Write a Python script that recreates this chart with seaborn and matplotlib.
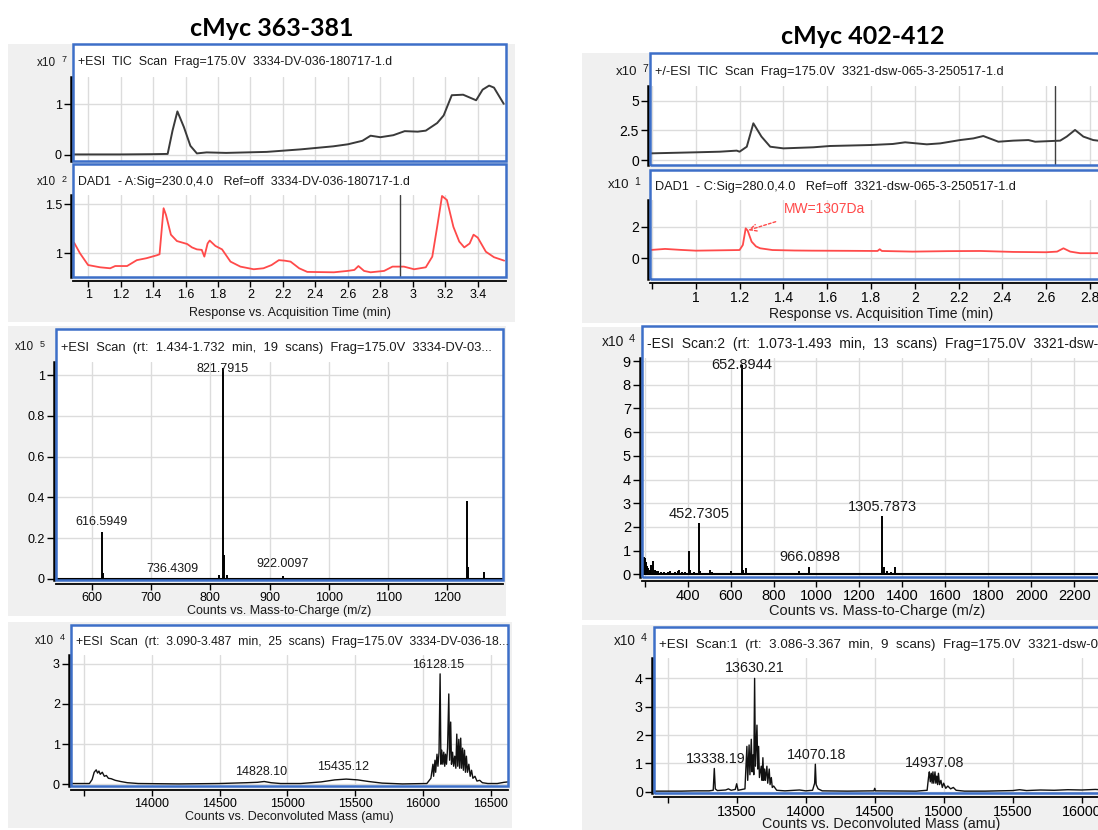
import matplotlib
matplotlib.use("Agg")
import matplotlib.pyplot as plt
from matplotlib.patches import Rectangle
import numpy as np
import seaborn as sns

sns.set_theme(style="ticks")
plt.rcParams["font.family"] = ["Liberation Sans", "DejaVu Sans"]

W, H = 1098, 830
BLUE = "#3d6fc8"
GRID = "#dcdcdc"
RED = "#ff4a4a"

# ---------------- cMyc 363-381 (left column) ----------------
tic_l_time = [0.907, 1.00, 1.20, 1.40, 1.49, 1.52, 1.55, 1.59, 1.63, 1.67, 1.73, 1.85, 2.10,
              2.31, 2.51, 2.60, 2.69, 2.74, 2.80, 2.88, 2.95, 3.03, 3.08, 3.15, 3.19, 3.24,
              3.31, 3.39, 3.43, 3.47, 3.50, 3.56]
tic_l_resp = [0.01, 0.01, 0.01, 0.015, 0.02, 0.48, 0.86, 0.55, 0.18, 0.03, 0.05, 0.04, 0.06,
              0.11, 0.17, 0.21, 0.28, 0.38, 0.35, 0.39, 0.47, 0.46, 0.48, 0.63, 0.78, 1.18,
              1.19, 1.08, 1.29, 1.37, 1.33, 1.01]

dad_l_time = [0.914, 0.95, 1.00, 1.074, 1.136, 1.167, 1.24, 1.30, 1.36, 1.424, 1.44, 1.465,
              1.48, 1.51, 1.547, 1.61, 1.64, 1.67, 1.70, 1.716, 1.736, 1.749, 1.784, 1.825,
              1.877, 1.938, 2.02, 2.08, 2.13, 2.175, 2.21, 2.247, 2.30, 2.35, 2.514, 2.597,
              2.64, 2.665, 2.70, 2.74, 2.823, 2.875, 2.945, 3.008, 3.08, 3.12, 3.15, 3.18,
              3.21, 3.25, 3.286, 3.317, 3.35, 3.374, 3.40, 3.45, 3.50, 3.563]
dad_l_resp = [1.108, 1.00, 0.88, 0.857, 0.847, 0.87, 0.87, 0.93, 0.95, 0.98, 0.99, 1.46,
              1.39, 1.19, 1.125, 1.095, 1.06, 1.04, 1.035, 0.966, 1.10, 1.13, 1.075, 1.04,
              0.915, 0.864, 0.837, 0.847, 0.88, 0.93, 0.925, 0.915, 0.847, 0.81, 0.806, 0.82,
              0.83, 0.87, 0.82, 0.806, 0.82, 0.864, 0.864, 0.837, 0.857, 0.966, 1.27, 1.585,
              1.544, 1.27, 1.12, 1.06, 1.10, 1.19, 1.16, 1.016, 0.96, 0.925]
dad_l_cursor = 2.92

ms_l_mz = [616.59, 618.6, 736.43, 815.0, 821.79, 823.8, 828.3, 922.01, 964.5, 1232.4, 1234.4, 1262.0]
ms_l_int = [0.232, 0.03, 0.004, 0.02, 1.034, 0.12, 0.02, 0.015, 0.006, 0.382, 0.06, 0.036]
ms_l_labels = ["616.5949", "821.7915", "736.4309", "922.0097"]
ms_l_label_x = [616.6, 820.9, 736.6, 922.1]
ms_l_label_y = [0.278, 1.03, 0.049, 0.072]

dec_l_mass = [13404, 13540, 13560, 13575, 13590, 13600, 13610, 13620, 13635, 13650, 13665, 13680,
              13700, 13730, 13770, 13820, 13900, 14200, 14500, 14700, 14780, 14830, 14880, 14950,
              15100, 15250, 15350, 15435, 15520, 15600, 15700, 15850, 16030, 16060, 16075, 16080,
              16090, 16095, 16105, 16112, 16120, 16128, 16134, 16140, 16148, 16155, 16162, 16168,
              16175, 16183, 16192, 16198, 16206, 16212, 16220, 16228, 16236, 16244, 16251, 16258,
              16266, 16272, 16280, 16286, 16294, 16300, 16308, 16315, 16322, 16330, 16340, 16350,
              16360, 16370, 16385, 16400, 16420, 16440, 16480, 16550, 16600, 16629]
dec_l_int = [0.02, 0.02, 0.12, 0.30, 0.36, 0.28, 0.33, 0.25, 0.30, 0.20, 0.22, 0.15,
             0.14, 0.10, 0.07, 0.04, 0.02, 0.01, 0.02, 0.04, 0.05, 0.07, 0.04, 0.02,
             0.02, 0.06, 0.11, 0.13, 0.11, 0.07, 0.03, 0.01, 0.02, 0.15, 0.50, 0.20,
             0.60, 0.30, 0.75, 0.45, 0.80, 2.75, 0.50, 0.85, 0.50, 0.80, 0.45, 0.75,
             0.50, 0.90, 2.25, 0.60, 1.55, 0.50, 0.80, 0.45, 0.70, 0.40, 1.25, 0.45,
             1.12, 0.40, 1.15, 0.40, 0.90, 0.35, 0.85, 0.30, 0.70, 0.30, 0.50, 0.20,
             0.35, 0.15, 0.20, 0.08, 0.10, 0.04, 0.02, 0.02, 0.05, 0.06]
dec_l_labels = ["16128.15", "14828.10", "15435.12"]
dec_l_label_x = [16110, 14810, 15411]
dec_l_label_y = [2.97, 0.31, 0.42]

# ---------------- cMyc 402-412 (right column) ----------------
tic_r_time = [0.795, 1.005, 1.11, 1.187, 1.20, 1.233, 1.263, 1.30, 1.34, 1.40, 1.537, 1.613,
              1.796, 1.90, 1.956, 2.055, 2.116, 2.207, 2.268, 2.313, 2.382, 2.45, 2.519, 2.55,
              2.664, 2.694, 2.732, 2.77, 2.815, 2.85]
tic_r_resp = [0.56, 0.65, 0.70, 0.79, 0.70, 1.12, 3.09, 1.97, 1.12, 0.98, 1.07, 1.18,
              1.26, 1.35, 1.49, 1.32, 1.40, 1.68, 1.82, 2.02, 1.54, 1.63, 1.68, 1.54,
              1.63, 1.97, 2.53, 1.97, 1.68, 1.60]
tic_r_cursor = 2.64

dad_r_time = [0.79, 0.86, 0.93, 1.00, 1.10, 1.20, 1.215, 1.228, 1.237, 1.255, 1.275, 1.294,
              1.35, 1.45, 1.53, 1.70, 1.83, 1.84, 1.85, 1.99, 2.15, 2.30, 2.45, 2.60, 2.65,
              2.679, 2.71, 2.755, 2.85]
dad_r_resp = [0.52, 0.59, 0.53, 0.48, 0.50, 0.52, 0.84, 1.89, 1.75, 1.05, 0.75, 0.63,
              0.52, 0.49, 0.48, 0.47, 0.46, 0.57, 0.46, 0.42, 0.45, 0.46, 0.40, 0.38, 0.42,
              0.63, 0.42, 0.32, 0.32]
mw_text = "MW=1307Da"
mw_text_pos = (1.403, 3.1)
mw_arrow_from = (1.377, 2.36)
mw_arrow_to = (1.228, 1.72)

ms_r_mz = [195, 200, 206, 212, 218, 225, 232, 240, 248, 255, 262, 275, 290, 310, 320, 340, 355,
           362, 372, 390, 405, 412, 430, 452.73, 460, 480, 505, 512, 540, 560, 600, 620, 652.89,
           660, 672, 690, 720, 750, 790, 800, 850, 920, 940, 966.09, 1000, 1050, 1100, 1305.79,
           1312, 1330, 1345, 1366, 1400, 1500, 1800, 1960, 2000]
ms_r_int = [0.75, 0.70, 0.50, 0.35, 0.25, 0.20, 0.40, 0.55, 0.20, 0.15, 0.12, 0.10, 0.08, 0.10,
            0.12, 0.08, 0.15, 0.20, 0.10, 0.08, 1.00, 0.20, 0.08, 2.15, 0.15, 0.06, 0.20, 0.10,
            0.05, 0.06, 0.12, 0.05, 8.85, 0.20, 0.25, 0.06, 0.06, 0.05, 0.05, 0.06, 0.04, 0.13,
            0.04, 0.30, 0.03, 0.03, 0.02, 2.47, 0.30, 0.12, 0.08, 0.30, 0.04, 0.02, 0.02, 0.03,
            0.02]
ms_r_labels = ["652.8944", "452.7305", "1305.7873", "966.0898"]
ms_r_label_x = [653, 454, 1307, 967]
ms_r_label_y = [8.83, 2.53, 2.85, 0.72]

dec_r_mass = [12901, 13100, 13200, 13300, 13330, 13338, 13345, 13360, 13420, 13440, 13460, 13490,
              13500, 13510, 13560, 13574, 13580, 13590, 13596, 13606, 13612, 13618, 13624, 13630,
              13636, 13647, 13653, 13659, 13665, 13678, 13684, 13690, 13696, 13702, 13708, 13719,
              13725, 13736, 13742, 13751, 13758, 13768, 13790, 13850, 13955, 14000, 14050, 14065,
              14070, 14076, 14090, 14120, 14300, 14495, 14500, 14505, 14800, 14880, 14890, 14896,
              14903, 14910, 14916, 14922, 14928, 14937, 14943, 14950, 14956, 14962, 14970, 14980,
              14990, 15000, 15015, 15030, 15050, 15070, 15090, 15150, 15300, 15500, 15550, 15600,
              15700, 15800, 15900, 16000, 16100, 16200]
dec_r_int = [0.02, 0.02, 0.03, 0.03, 0.05, 0.82, 0.10, 0.04, 0.06, 0.10, 0.05, 0.08,
             0.28, 0.05, 0.10, 1.60, 0.40, 1.65, 0.60, 1.85, 0.70, 1.30, 0.60, 4.00,
             0.90, 2.35, 0.80, 1.60, 0.50, 0.90, 0.40, 1.20, 0.40, 0.80, 0.40, 0.90,
             0.30, 0.80, 0.25, 0.50, 0.15, 0.20, 0.05, 0.03, 0.06, 0.03, 0.05, 0.30,
             0.97, 0.25, 0.10, 0.03, 0.02, 0.03, 0.12, 0.03, 0.02, 0.05, 0.50, 0.70,
             0.35, 0.65, 0.30, 0.70, 0.30, 0.70, 0.30, 0.55, 0.25, 0.65, 0.25, 0.40,
             0.15, 0.30, 0.12, 0.20, 0.10, 0.15, 0.05, 0.02, 0.02, 0.04, 0.07, 0.04,
             0.06, 0.05, 0.07, 0.06, 0.08, 0.05]
dec_r_labels = ["13630.21", "13338.19", "14070.18", "14937.08"]
dec_r_label_x = [13633, 13350, 14080, 14937]
dec_r_label_y = [4.35, 1.15, 1.29, 1.0]

fig = plt.figure(figsize=(W / 100, H / 100), dpi=100)


def fx(x):
    return x / W


def fy(y):
    return 1 - y / H


def rect(x0, y0, x1, y1, **kw):
    fig.patches.append(Rectangle((fx(x0), fy(y1)), (x1 - x0) / W, (y1 - y0) / H,
                                 transform=fig.transFigure, **kw))


def panel(frame, top, xlim, ylim, yticks, ylabels, xticks, xlabels, header, hsize,
          exp, tsize, xaxis=True):
    x0, y0, x1, y1 = frame
    rect(x0, y0, x1, y1, facecolor="white", edgecolor="none", zorder=-1)
    rect(x0, y0, x1, y1, fill=False, edgecolor=BLUE, lw=1.8, zorder=3)
    ax = fig.add_axes([fx(x0), fy(y1), (x1 - x0) / W, (y1 - top) / H])
    ax.set_facecolor("white")
    ax.set_xlim(*xlim)
    ax.set_ylim(*ylim)
    ax.set_yticks(yticks, ylabels)
    ax.set_xticks(xticks, xlabels if xaxis else [])
    ax.grid(True, color=GRID, lw=1)
    ax.set_axisbelow(True)
    for s in ["top", "right"]:
        ax.spines[s].set_visible(False)
    ax.spines["left"].set_color("black")
    ax.spines["left"].set_linewidth(1.8)
    ax.spines["left"].set_position(("outward", 1.5))
    ax.tick_params(axis="y", direction="out", length=5, width=1, color="black",
                   labelcolor="black", labelsize=tsize, pad=1.5)
    if xaxis:
        ax.spines["bottom"].set_color("black")
        ax.spines["bottom"].set_linewidth(1.3)
        ax.spines["bottom"].set_position(("outward", 3))
        ax.tick_params(axis="x", direction="out", length=4, width=1, color="black",
                       labelcolor="black", labelsize=tsize, pad=1.5)
    else:
        ax.spines["bottom"].set_visible(False)
        ax.tick_params(axis="x", bottom=False, labelbottom=False)
    fig.text(fx(x0 + 5), fy((y0 + top) / 2 + 2), header, fontsize=hsize,
             ha="left", va="center", color="#1a1a1a")
    ex, ey, power = exp
    fig.text(fx(ex - 11), fy(ey), "x10", fontsize=tsize - 0.5, ha="right", va="center",
             color="#1a1a1a")
    fig.text(fx(ex), fy(ey - 3), power, fontsize=tsize - 2.5, ha="right", va="center",
             color="#1a1a1a")
    return ax


def tlabels(ticks, skip_first=False):
    labs = [f"{v:g}" for v in ticks]
    if skip_first:
        labs[0] = ""
    return labs


# gray screenshot backgrounds
for b in [(8, 44, 515, 322), (8, 326, 506, 616), (8, 622, 512, 828),
          (582, 53, 1098, 323), (582, 327, 1098, 620), (582, 625, 1098, 830)]:
    rect(*b, facecolor="#f0f0f0", edgecolor="none", zorder=-2)

time_ticks_l = np.round(np.arange(1.0, 3.41, 0.2), 1)
time_ticks_r = np.round(np.arange(0.8, 2.81, 0.2), 1)

# ---- left column ----
ax = panel((73, 44, 506, 161), 77, (0.907, 3.574), (-0.12, 1.54), [0, 1], ["0", "1"],
           time_ticks_l, None, "+ESI  TIC  Scan  Frag=175.0V  3334-DV-036-180717-1.d", 8.9,
           (67, 63, "7"), 9, xaxis=False)
sns.lineplot(x=tic_l_time, y=tic_l_resp, ax=ax, color="#3a3a3a", lw=1.4, estimator=None, sort=False)

ax = panel((73, 164, 506, 277), 195, (0.907, 3.574), (0.758, 1.595), [1, 1.5], ["1", "1.5"],
           time_ticks_l, tlabels(time_ticks_l),
           "DAD1  - A:Sig=230.0,4.0   Ref=off  3334-DV-036-180717-1.d", 8.9,
           (67, 182, "2"), 9)
sns.lineplot(x=dad_l_time, y=dad_l_resp, ax=ax, color=RED, lw=1.3, estimator=None, sort=False)
ax.axvline(dad_l_cursor, color="#404040", lw=1)
fig.text(fx(289.5), fy(313), "Response vs. Acquisition Time (min)", fontsize=9,
         ha="center", va="center", color="#1a1a1a")

mz_ticks_l = np.arange(600, 1201, 100)
ax = panel((56, 329, 503, 580), 362, (539.8, 1293.6), (-0.005, 1.064),
           [0, 0.2, 0.4, 0.6, 0.8, 1], ["0", "0.2", "0.4", "0.6", "0.8", "1"],
           mz_ticks_l, tlabels(mz_ticks_l),
           "+ESI  Scan  (rt:  1.434-1.732  min,  19  scans)  Frag=175.0V  3334-DV-03...", 9.3,
           (45, 347, "5"), 9)
ax.axhline(0, color="black", lw=1.5)
ax.vlines(ms_l_mz, 0, ms_l_int, color="black", lw=1.4)
for s, x, y in zip(ms_l_labels, ms_l_label_x, ms_l_label_y):
    ax.text(x, y, s, fontsize=9, ha="center", va="center", color="#1a1a1a")
fig.text(fx(279.5), fy(611), "Counts vs. Mass-to-Charge (m/z)", fontsize=9,
         ha="center", va="center", color="#1a1a1a")

dm_ticks_l = np.arange(13500, 16501, 500)
ax = panel((71, 625, 508, 786), 655, (13404, 16629), (-0.042, 3.22), [0, 1, 2, 3],
           ["0", "1", "2", "3"], dm_ticks_l, tlabels(dm_ticks_l, True),
           "+ESI  Scan  (rt:  3.090-3.487  min,  25  scans)  Frag=175.0V  3334-DV-036-18...", 8.8,
           (65, 641, "4"), 9)
sns.lineplot(x=dec_l_mass, y=dec_l_int, ax=ax, color="#111111", lw=1.0, estimator=None, sort=False)
for s, x, y in zip(dec_l_labels, dec_l_label_x, dec_l_label_y):
    ax.text(x, y, s, fontsize=9, ha="center", va="center", color="#1a1a1a")
fig.text(fx(289.5), fy(817), "Counts vs. Deconvoluted Mass (amu)", fontsize=9,
         ha="center", va="center", color="#1a1a1a")

# ---- right column ----
ax = panel((650, 53, 1130, 165), 86, (0.791, 2.983), (-0.42, 6.23), [0, 2.5, 5],
           ["0", "2.5", "5"], time_ticks_r, None,
           "+/-ESI  TIC  Scan  Frag=175.0V  3321-dsw-065-3-250517-1.d", 9.2,
           (648, 72, "7"), 10, xaxis=False)
sns.lineplot(x=tic_r_time, y=tic_r_resp, ax=ax, color="#3a3a3a", lw=1.4, estimator=None, sort=False)
ax.axvline(tic_r_cursor, color="#404040", lw=1)

ax = panel((650, 170, 1130, 279), 200, (0.791, 2.983), (-1.31, 3.68), [0, 2], ["0", "2"],
           time_ticks_r, tlabels(time_ticks_r, True),
           "DAD1  - C:Sig=280.0,4.0   Ref=off  3321-dsw-065-3-250517-1.d", 9.2,
           (640, 185, "1"), 10)
sns.lineplot(x=dad_r_time, y=dad_r_resp, ax=ax, color=RED, lw=1.3, estimator=None, sort=False)
ax.text(*mw_text_pos, mw_text, color=RED, fontsize=10, ha="left", va="center")
ax.annotate("", xy=mw_arrow_to, xytext=mw_arrow_from,
            arrowprops=dict(arrowstyle="->", color=RED, lw=1, linestyle=(0, (2, 1.5))))
fig.text(fx(881), fy(314), "Response vs. Acquisition Time (min)", fontsize=10,
         ha="center", va="center", color="#1a1a1a")

mz_ticks_r = np.arange(200, 2201, 200)
ax = panel((642, 326, 1130, 577), 358, (188, 2459), (-0.114, 9.13), list(range(10)),
           [str(v) for v in range(10)], mz_ticks_r, tlabels(mz_ticks_r, True),
           "-ESI  Scan:2  (rt:  1.073-1.493  min,  13  scans)  Frag=175.0V  3321-dsw-0...", 10,
           (635, 342, "4"), 10.5)
ax.axhline(0, color="black", lw=1.5)
ax.vlines(ms_r_mz, 0, ms_r_int, color="black", lw=1.4)
for s, x, y in zip(ms_r_labels, ms_r_label_x, ms_r_label_y):
    ax.text(x, y, s, fontsize=10.5, ha="center", va="center", color="#1a1a1a")
fig.text(fx(877), fy(611), "Counts vs. Mass-to-Charge (m/z)", fontsize=10.5,
         ha="center", va="center", color="#1a1a1a")

dm_ticks_r = np.arange(13000, 16001, 500)
ax = panel((654, 627, 1130, 793), 658, (12901, 16350), (-0.046, 4.72), [0, 1, 2, 3, 4],
           ["0", "1", "2", "3", "4"], dm_ticks_r, tlabels(dm_ticks_r, True),
           "+ESI  Scan:1  (rt:  3.086-3.367  min,  9  scans)  Frag=175.0V  3321-dsw-0...", 9.6,
           (647, 641, "4"), 10.3)
sns.lineplot(x=dec_r_mass, y=dec_r_int, ax=ax, color="#111111", lw=1.0, estimator=None, sort=False)
for s, x, y in zip(dec_r_labels, dec_r_label_x, dec_r_label_y):
    ax.text(x, y, s, fontsize=10.3, ha="center", va="center", color="#1a1a1a")
fig.text(fx(881), fy(824), "Counts vs. Deconvoluted Mass (amu)", fontsize=10.3,
         ha="center", va="center", color="#1a1a1a")

# column titles
fig.text(fx(272), fy(29), "cMyc 363-381", family=["Lato", "DejaVu Sans"], fontweight="bold",
         fontsize=18, ha="center", va="center", color="black")
fig.text(fx(863), fy(36), "cMyc 402-412", family=["Lato", "DejaVu Sans"], fontweight="bold",
         fontsize=18, ha="center", va="center", color="black")

fig.savefig("out.png", dpi=100)
